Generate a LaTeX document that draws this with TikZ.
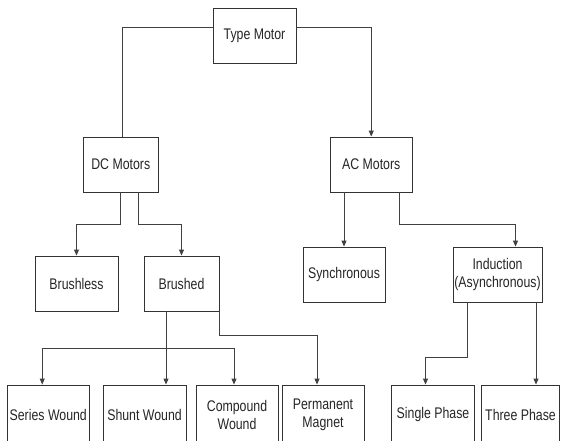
\documentclass[tikz,border=0pt]{standalone}
\usepackage{fontspec}
\setmainfont[FakeStretch=0.8]{Liberation Sans}
\usepackage{tikz}
\usetikzlibrary{calc}
\usetikzlibrary{arrows.meta}
\tikzset{
  box/.style={draw=black!80,line width=0.9pt,fill=white,minimum height=55pt,inner sep=0pt,align=center,text=black!85,font=\fontsize{15.4}{18}\selectfont},
  link/.style={draw=black!75,line width=0.9pt},
  arr/.style={link,-{Triangle[length=6pt,width=5pt]}}
}

\begin{document}
\begin{tikzpicture}[x=1pt,y=-1pt]
  \useasboundingbox[fill=white] (0,0) rectangle (561,440);

  % Type Motor
  \node[box,minimum width=83pt] (TypeMotor) at (254.5,35.5) {Type Motor};

  % DC and AC
  \node[box,minimum width=75.5pt] (DC) at (120.75,164.5) {DC Motors};
  \node[box,minimum width=82.5pt] (AC) at (371.25,164.5) {AC Motors};

  % DC branch
  \node[box,minimum width=83pt] (Brushless) at (76.5,283.5) {Brushless};
  \node[box,minimum width=75pt] (Brushed) at (181.5,283.5) {Brushed};

  % AC branch
  \node[box,minimum width=82pt] (Synchronous) at (344,274.5) {Synchronous};
  \node[box,minimum width=89pt] (Induction) at (497.5,274.5) {Induction\\(Asynchronous)};

  % Brushed kinds (cut by the lower edge)
  \node[box,minimum width=82.5pt,minimum height=59pt] (Series) at (48.25,414.5) {Series Wound};
  \node[box,minimum width=83pt,minimum height=59pt] (Shunt) at (144.5,414.5) {Shunt Wound};
  \node[box,minimum width=82pt,minimum height=59pt] (Compound) at (237,414.5) {Compound\\Wound};
  \node[box,minimum width=82pt,minimum height=59pt] (Permanent) at (323,414.5) {Permanent\\Magnet};

  % Induction kinds
  \node[box,minimum width=82.5pt,minimum height=59pt] (Single) at (433,414.5) {Single Phase};
  \node[box,minimum width=78pt,minimum height=59pt] (Three) at (520.5,414.5) {Three Phase};

  % Links from Type Motor
  \draw[link] ($(TypeMotor.west)+(0,-8.5)$) -| ($(DC.north)+(2,0)$);
  \draw[arr] ($(TypeMotor.east)+(0,-8.5)$) -| (AC.north);

  % Links from DC Motors
  \draw[arr] (DC.south) -- ++(0,32) -| (Brushless.north);
  \draw[arr] ($(DC.south)+(18,0)$) -- ++(0,32) -| (Brushed.north);

  % Links from AC Motors
  \draw[arr] (AC.south -| Synchronous.north) -- (Synchronous.north);
  \draw[arr] ($(AC.south)+(28,0)$) -- ++(0,32) -| ($(Induction.north)+(18,0)$);

  % Links from Brushed
  \coordinate (bx) at ($(Brushed.south)+(-15.5,0)$);
  \coordinate (bj) at ($(bx)+(0,37)$);
  \draw[arr] (bx) -- (bx |- Shunt.north);
  \draw[arr] (bj) -| ($(Series.north)+(-6,0)$);
  \draw[arr] (bj) -| ($(Compound.north)+(-3,0)$);
  \draw[arr] (Brushed.south east) -- ++(0,24) -| ($(Permanent.north)+(-6,0)$);

  % Links from Induction
  \draw[arr] ($(Induction.south)+(-30.5,0)$) -- ++(0,55) -| ($(Single.north)+(-7.5,0)$);
  \coordinate (ix) at ($(Induction.south)+(38.5,0)$);
  \draw[arr] (ix) -- (ix |- Three.north);

\end{tikzpicture}
\end{document}
